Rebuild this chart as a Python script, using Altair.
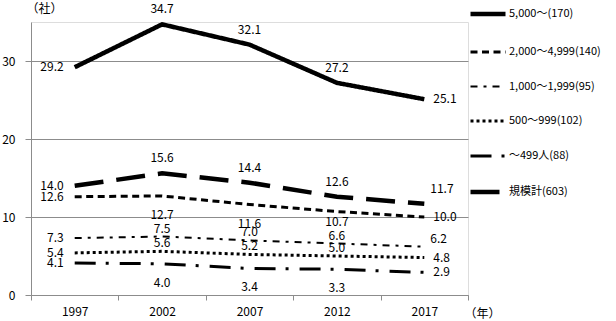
import altair as alt
import pandas as pd

years = ["1997", "2002", "2007", "2012", "2017"]
series = ["5,000～(170)", "2,000～4,999(140)", "1,000～1,999(95)",
          "500～999(102)", "～499人(88)", "規模計(603)"]
v5000 = [29.2, 34.7, 32.1, 27.2, 25.1]
v2000 = [12.6, 12.7, 11.6, 10.7, 10.0]
v1000 = [7.3, 7.5, 7.0, 6.6, 6.2]
v500 = [5.4, 5.6, 5.2, 5.0, 4.8]
v499 = [4.1, 4.0, 3.4, 3.3, 2.9]
vall = [14.0, 15.6, 14.4, 12.6, 11.7]

# label placement per point (style codes)
p5000 = ["L", "A", "A", "A", "R"]
p2000 = ["L", "B", "B", "b", "R"]
p1000 = ["L", "a", "a", "a", "RU"]
p500 = ["L", "a", "a", "a", "R"]
p499 = ["L", "B", "B", "B", "R"]
pall = ["L", "A", "A", "A", "RU2"]

rows = []
for s, vals, pos in zip(series, [v5000, v2000, v1000, v500, v499, vall],
                        [p5000, p2000, p1000, p500, p499, pall]):
    for y, v, p in zip(years, vals, pos):
        rows.append({"year": y, "series": s, "value": v, "pos": p})
df = pd.DataFrame(rows)

FONT = "Noto Sans CJK JP"
GRAY = "#8c8c8c"

dashes = [[1, 0], [7, 4.5], [7, 6, 3, 6], [3, 3], [21, 10, 3, 11], [29, 13]]
widths = [4.5, 3, 2, 3, 3, 4.5]

x_enc = alt.X("year:N", sort=years, bandPosition=0.5,
              scale=alt.Scale(type="band", paddingInner=0, paddingOuter=0),
              axis=alt.Axis(title="（年）", titleX=433, titleY=18, titleAlign="left",
                            titleBaseline="middle", titleFontWeight="normal",
                            titleFont=FONT, titleFontSize=12,
                            tickBand="extent", domainColor=GRAY, tickColor=GRAY,
                            tickSize=5, labelPadding=6, labelAngle=0,
                            labelFont=FONT, labelFontSize=12, labelColor="#000"))
y_enc = alt.Y("value:Q", scale=alt.Scale(domain=[0, 35], nice=False),
              axis=alt.Axis(values=[0, 10, 20, 30], title="（社）", titleAngle=0,
                            titleX=-5, titleY=-14, titleAlign="left",
                            titleBaseline="middle", titleFontWeight="normal",
                            titleFont=FONT, titleFontSize=12,
                            grid=True, gridColor=GRAY, domainColor=GRAY,
                            tickColor=GRAY, tickSize=6, labelPadding=10,
                            labelFont=FONT, labelFontSize=12, labelColor="#000"))

base = alt.Chart(df)

legend = alt.Legend(title=None, orient="none", legendX=437, legendY=-28,
                    symbolType="stroke", symbolSize=1225, symbolStrokeColor="black",
                    labelFont=FONT, labelFontSize=11, labelColor="#000",
                    rowPadding=10, labelOffset=1)

lines = base.mark_line(color="black").encode(
    x=x_enc, y=y_enc,
    strokeDash=alt.StrokeDash("series:N", sort=series,
                              scale=alt.Scale(type="ordinal", domain=series, range=dashes),
                              legend=legend),
    strokeWidth=alt.StrokeWidth("series:N", sort=series,
                                scale=alt.Scale(type="ordinal", domain=series, range=widths),
                                legend=legend),
    detail="series:N",
)

place = {
    "L": ("right", -11, 0),
    "R": ("left", 9, 0),
    "RU": ("left", 6, -8),
    "RU2": ("left", 6, -15),
    "A": ("center", 0, -15),
    "a": ("center", 0, -8),
    "B": ("center", 0, 19),
    "b": ("center", 0, 10),
}

layers = [lines]
for code, (al, dx, dy) in place.items():
    layers.append(
        base.transform_filter(alt.datum.pos == code).mark_text(
            align=al, dx=dx, dy=dy, baseline="middle", font=FONT, fontSize=12,
            color="#000"
        ).encode(x=alt.X("year:N", sort=years, bandPosition=0.5),
                 y="value:Q", text=alt.Text("value:Q", format=".1f"))
    )

chart = alt.layer(*layers).properties(
    width=437, height=273,
    autosize=alt.AutoSizeParams(type="none"),
    padding={"left": 31, "top": 22, "right": 148, "bottom": 26},
).configure_view(stroke=None).configure(background="white")

chart.save("out.html", embed_options={"renderer": "svg", "actions": False})
